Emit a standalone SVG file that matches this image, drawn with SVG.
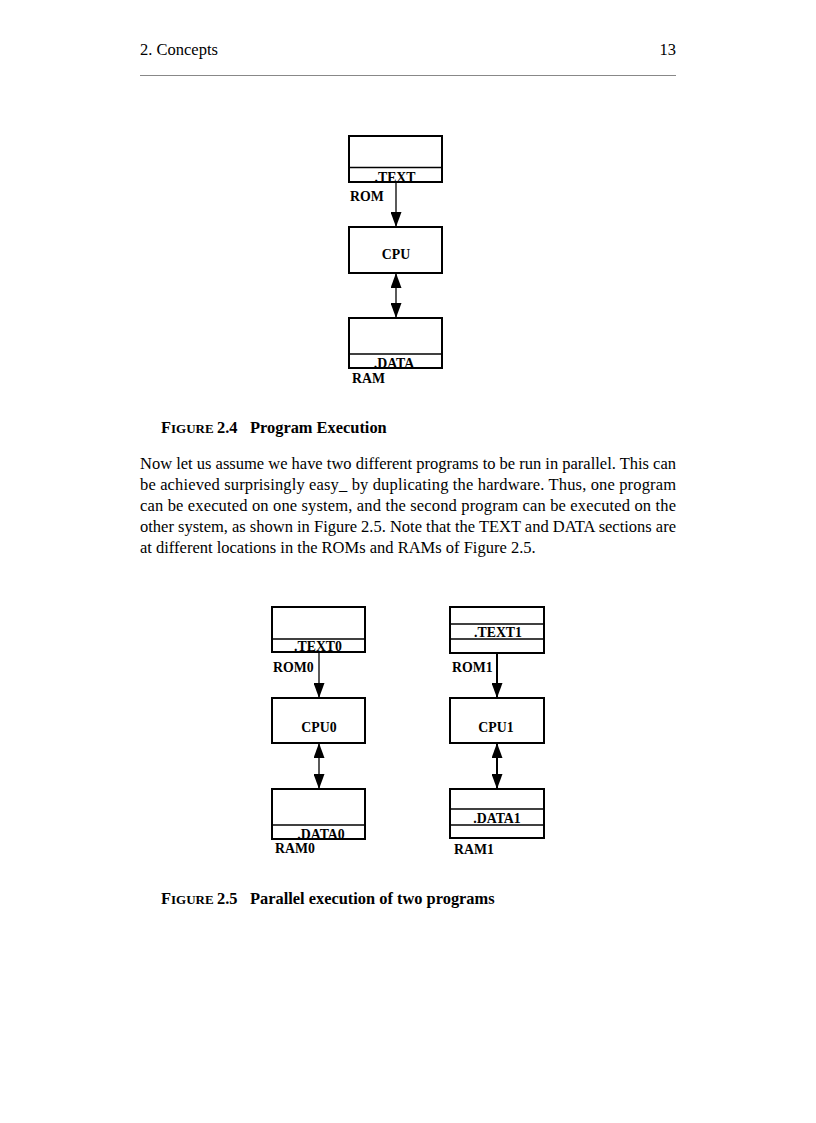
<svg xmlns="http://www.w3.org/2000/svg" width="816" height="1123" viewBox="0 0 816 1123">
<style>
.box{fill:#fff;stroke:#000;stroke-width:2}
.div{stroke:#000;stroke-width:1.5;fill:none}
.lbl{font-family:"Liberation Serif","Times New Roman",serif;font-weight:bold;font-size:13.8px;fill:#000}
.mid{text-anchor:middle}
.body{font-family:"Liberation Serif","Times New Roman",serif;font-size:16.5px;fill:#000}
.cap{font-family:"Liberation Serif","Times New Roman",serif;font-weight:bold;font-size:16.4px;fill:#000}
.conn{stroke:#000;stroke-width:1.3;fill:none}
.conn2{stroke:#000;stroke-width:2;fill:none}
</style>
<defs>
<marker id="ah" viewBox="0 0 15 11" refX="15" refY="5.5" markerWidth="15" markerHeight="11" markerUnits="userSpaceOnUse" orient="auto-start-reverse">
<path d="M0,0 L15,5.5 L0,11 z" fill="#000"/>
</marker>
</defs>
<rect width="816" height="1123" fill="#fff"/>
<g id="header">
<text class="body" x="140" y="55">2. Concepts</text>
<text class="body" x="676" y="55" text-anchor="end">13</text>
<line x1="140" y1="75.5" x2="676" y2="75.5" stroke="#888" stroke-width="1"/>
</g>
<g id="connectors">
<line class="conn" x1="396" y1="183" x2="396" y2="227" marker-end="url(#ah)"/>
<line class="conn" x1="396" y1="273" x2="396" y2="318" marker-start="url(#ah)" marker-end="url(#ah)"/>
<line class="conn" x1="319" y1="652" x2="319" y2="698" marker-end="url(#ah)"/>
<line class="conn" x1="319" y1="743" x2="319" y2="789" marker-start="url(#ah)" marker-end="url(#ah)"/>
<line class="conn2" x1="497" y1="653" x2="497" y2="698" marker-end="url(#ah)"/>
<line class="conn2" x1="497" y1="743" x2="497" y2="789" marker-start="url(#ah)" marker-end="url(#ah)"/>
</g>
<g id="rom">
<rect class="box" x="349" y="136" width="93" height="46"/>
<line class="div" x1="349" y1="167.5" x2="442" y2="167.5"/>
<text class="lbl mid" x="395" y="182">.TEXT</text>
<text class="lbl" x="350" y="201">ROM</text>
</g>
<g id="cpu">
<rect class="box" x="349" y="227" width="93" height="46"/>
<text class="lbl mid" x="396" y="259">CPU</text>
</g>
<g id="ram">
<rect class="box" x="349" y="318" width="93" height="50"/>
<line class="div" x1="349" y1="354" x2="442" y2="354"/>
<text class="lbl mid" x="394" y="368">.DATA</text>
<text class="lbl" x="352" y="383">RAM</text>
</g>
<g id="caption1">
<text class="cap" x="161" y="433">F<tspan style="font-size:13px">IGURE</tspan><tspan x="217">2.4</tspan><tspan x="250">Program Execution</tspan></text>
</g>
<g id="bodytext">
<text class="body" x="140" y="469" textLength="536" lengthAdjust="spacing">Now let us assume we have two different programs to be run in parallel. This can</text>
<text class="body" x="140" y="490" textLength="536" lengthAdjust="spacing">be achieved surprisingly easy_ by duplicating the hardware. Thus, one program</text>
<text class="body" x="140" y="511" textLength="536" lengthAdjust="spacing">can be executed on one system, and the second program can be executed on the</text>
<text class="body" x="140" y="532" textLength="536" lengthAdjust="spacing">other system, as shown in Figure 2.5. Note that the TEXT and DATA sections are</text>
<text class="body" x="140" y="553">at different locations in the ROMs and RAMs of Figure 2.5.</text>
</g>
<g id="rom0">
<rect class="box" x="272" y="607" width="93" height="45"/>
<line class="div" x1="272" y1="639" x2="365" y2="639"/>
<text class="lbl mid" x="318" y="651">.TEXT0</text>
<text class="lbl" x="273" y="672">ROM0</text>
</g>
<g id="cpu0">
<rect class="box" x="272" y="698" width="93" height="45"/>
<text class="lbl mid" x="319" y="732">CPU0</text>
</g>
<g id="ram0">
<rect class="box" x="272" y="789" width="93" height="50"/>
<line class="div" x1="272" y1="825" x2="365" y2="825"/>
<text class="lbl mid" x="321" y="839">.DATA0</text>
<text class="lbl" x="275" y="853">RAM0</text>
</g>
<g id="rom1">
<rect class="box" x="450" y="607" width="94" height="46"/>
<line class="div" x1="450" y1="624" x2="544" y2="624"/>
<line class="div" x1="450" y1="639" x2="544" y2="639"/>
<text class="lbl mid" x="498" y="637">.TEXT1</text>
<text class="lbl" x="452" y="672">ROM1</text>
</g>
<g id="cpu1">
<rect class="box" x="450" y="698" width="94" height="45"/>
<text class="lbl mid" x="496" y="732">CPU1</text>
</g>
<g id="ram1">
<rect class="box" x="450" y="789" width="94" height="49"/>
<line class="div" x1="450" y1="809" x2="544" y2="809"/>
<line class="div" x1="450" y1="825" x2="544" y2="825"/>
<text class="lbl mid" x="497" y="823">.DATA1</text>
<text class="lbl" x="454" y="854">RAM1</text>
</g>
<g id="caption2">
<text class="cap" x="161" y="904">F<tspan style="font-size:13px">IGURE</tspan><tspan x="217">2.5</tspan><tspan x="250">Parallel execution of two programs</tspan></text>
</g>
</svg>
